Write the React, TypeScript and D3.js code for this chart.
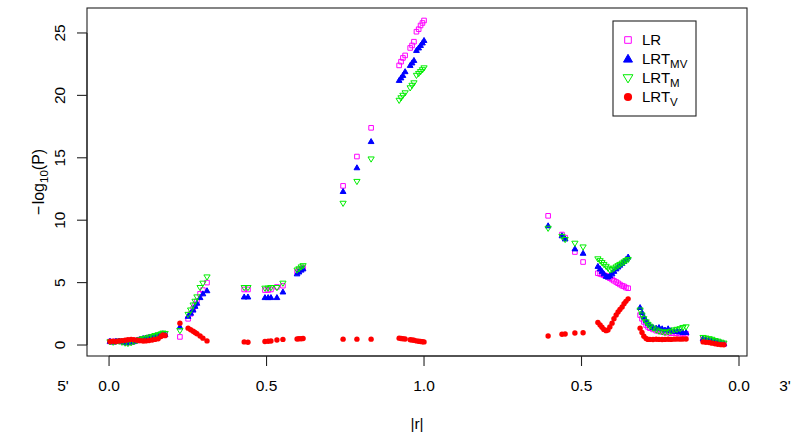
import React from "react";
import * as d3 from "d3";

// ---------- data ----------
// x axis: |r| on the 5' arm (left half) and on the 3' arm (right half)
const xTickPos = [0, 0.5, 1, 1.5, 2];
const xTickLabels = ["0.0", "0.5", "1.0", "0.5", "0.0"];
const armLabels = ["5'", "3'"];
const armLabelPos = [-0.146, 2.146];
const yTicks = [0, 5, 10, 15, 20, 25];

const seriesNames = ["LR", "LRT_MV", "LRT_M", "LRT_V"];
const seriesColors = ["#ff00ff", "#0000ff", "#00ee00", "#ff0000"];

// |r| of markers on the 5' arm
const rFive = [
  0.003, 0.013, 0.022, 0.032, 0.041, 0.051, 0.06, 0.07, 0.079, 0.089, 0.098, 0.108, 0.117, 0.127, 0.137, 0.146, 0.156, 0.165, 0.171, 0.178,
  0.225, 0.251, 0.259, 0.267, 0.273, 0.279, 0.289, 0.298, 0.311,
  0.429, 0.441,
  0.495, 0.505, 0.514, 0.533, 0.552,
  0.597, 0.603, 0.61, 0.616,
  0.743, 0.787, 0.832,
  0.921, 0.927, 0.933, 0.94, 0.956, 0.962, 0.968, 0.976, 0.983, 0.989, 0.995, 1.0,
];
// |r| of markers on the 3' arm
const rThree = [
  0.606,
  0.562, 0.552, 0.521, 0.495,
  0.448, 0.441, 0.435, 0.429, 0.422, 0.416, 0.41, 0.403, 0.397, 0.39, 0.384, 0.378, 0.371, 0.365, 0.359, 0.352,
  0.314, 0.308, 0.302, 0.295, 0.289, 0.283, 0.273, 0.263, 0.254, 0.244, 0.235, 0.225, 0.216, 0.206, 0.197, 0.187, 0.178, 0.168,
  0.114, 0.105, 0.095, 0.086, 0.076, 0.067, 0.057, 0.048,
];

const lrFive = [
  0.28, 0.24, 0.3, 0.3, 0.26, 0.2, 0.18, 0.22, 0.28, 0.36, 0.44, 0.5, 0.54, 0.6, 0.65, 0.7, 0.76, 0.8, 0.88, 0.84,
  0.65, 2.1, 2.5, 2.9, 3.2, 3.5, 4.1, 4.4, 5.0,
  4.45, 4.45,
  4.4, 4.4, 4.45, 4.65, 4.75,
  5.85, 6.0, 6.1, 6.2,
  12.75, 15.1, 17.4,
  22.4, 22.7, 23.0, 23.2, 23.8, 24.0, 24.3, 25.1, 25.3, 25.6, 25.8, 26.0,
];
const mvFive = [
  0.3, 0.25, 0.3, 0.32, 0.28, 0.22, 0.2, 0.25, 0.3, 0.38, 0.45, 0.52, 0.56, 0.62, 0.66, 0.72, 0.78, 0.82, 0.9, 0.85,
  1.45, 2.3, 2.55, 2.8, 3.1, 3.35, 3.8, 4.1, 4.35,
  3.85, 3.85,
  3.8, 3.8, 3.8, 3.8, 4.25,
  5.7, 5.85, 6.0, 6.1,
  12.3, 14.2, 16.3,
  21.2, 21.4, 21.6, 21.9, 22.4, 22.6, 22.8, 23.6, 23.8, 24.0, 24.2, 24.4,
];
const mFive = [
  0.25, 0.22, 0.28, 0.3, 0.22, 0.15, 0.12, 0.18, 0.25, 0.35, 0.42, 0.5, 0.55, 0.62, 0.68, 0.75, 0.82, 0.88, 0.95, 0.92,
  1.15, 2.45, 2.8, 3.2, 3.5, 3.85, 4.6, 4.95, 5.45,
  4.6, 4.6,
  4.55, 4.55, 4.6, 4.6, 4.95,
  6.0, 6.1, 6.25, 6.35,
  11.35, 13.1, 14.9,
  19.6, 19.8, 20.0, 20.2, 20.6, 20.8, 21.0, 21.6, 21.75, 21.9, 22.05, 22.2,
];
const vFive = [
  0.28, 0.3, 0.28, 0.32, 0.35, 0.38, 0.42, 0.45, 0.42, 0.38, 0.35, 0.32, 0.33, 0.36, 0.4, 0.45, 0.5, 0.68, 0.8, 0.75,
  1.75, 1.35, 1.22, 1.1, 1.0, 0.9, 0.72, 0.55, 0.33,
  0.25, 0.22,
  0.28, 0.3, 0.32, 0.4, 0.45,
  0.48, 0.5, 0.5, 0.52,
  0.47, 0.47, 0.47,
  0.55, 0.52, 0.5, 0.48, 0.42, 0.4, 0.38, 0.33, 0.3, 0.28, 0.26, 0.25,
];

const lrThree = [
  10.35,
  8.85, 8.6, 7.45, 6.65,
  5.75, 5.7, 5.65, 5.6, 5.55, 5.45, 5.35, 5.25, 5.15, 5.05, 4.95, 4.85, 4.75, 4.7, 4.6, 4.55,
  2.4, 2.1, 1.85, 1.6, 1.45, 1.35, 1.25, 1.15, 1.1, 1.05, 1.0, 1.0, 0.95, 0.95, 0.95, 0.9, 0.9, 0.9,
  0.45, 0.4, 0.38, 0.32, 0.28, 0.22, 0.15, 0.08,
];
const mvThree = [
  9.55,
  8.75, 8.5, 7.7, 7.35,
  6.3, 6.1, 5.9, 5.7, 5.5, 5.45, 5.55, 5.7, 5.9, 6.1, 6.25, 6.4, 6.55, 6.7, 6.85, 7.05,
  3.0, 2.6, 2.25, 1.95, 1.75, 1.6, 1.4, 1.35, 1.4, 1.3, 1.2, 1.3, 1.15, 1.1, 1.1, 1.05, 1.0, 1.0,
  0.5, 0.45, 0.4, 0.35, 0.3, 0.25, 0.18, 0.1,
];
const mThree = [
  9.35,
  8.7, 8.45, 8.15, 7.85,
  6.9, 6.75, 6.6, 6.45, 6.3, 6.15, 6.0, 6.05, 6.15, 6.25, 6.35, 6.45, 6.55, 6.65, 6.75, 6.85,
  2.8, 2.4, 2.1, 1.85, 1.65, 1.5, 1.35, 1.2, 1.1, 1.05, 1.0, 1.05, 1.1, 1.2, 1.25, 1.3, 1.4, 1.45,
  0.6, 0.55, 0.5, 0.45, 0.35, 0.3, 0.22, 0.15,
];
const vThree = [
  0.72,
  0.86, 0.88, 0.96, 0.98,
  1.8, 1.6, 1.42, 1.25, 1.15, 1.2, 1.45, 1.75, 2.1, 2.4, 2.65, 2.85, 3.05, 3.3, 3.5, 3.7,
  1.35, 1.0, 0.7, 0.52, 0.45, 0.45, 0.44, 0.46, 0.45, 0.44, 0.45, 0.46, 0.45, 0.47, 0.48, 0.47, 0.48, 0.48,
  0.25, 0.22, 0.2, 0.15, 0.1, 0.06, 0.03, 0.02,
];

// ---------- layout ----------
const W = 800;
const H = 442;
const plotLeft = 87;
const plotRight = 747;
const plotTop = 8;
const plotBottom = 356;
const FONT = "'Liberation Sans', Arial, Helvetica, sans-serif";

const x = d3.scaleLinear().domain([-0.07, 2.0254]).range([plotLeft, plotRight]);
const y = d3.scaleLinear().domain([-0.88, 27.0]).range([plotBottom, plotTop]);

// 5' arm: position = |r|; 3' arm: position = 2 - |r|
const posFive = rFive.map((r) => r);
const posThree = rThree.map((r) => 2 - r);

type Pt = { p: number; v: number };
const makeSeries = (five: number[], three: number[]): Pt[] => [
  ...five.map((v, i) => ({ p: posFive[i], v })),
  ...three.map((v, i) => ({ p: posThree[i], v })),
];

const seriesData: Pt[][] = [
  makeSeries(lrFive, lrThree),
  makeSeries(mvFive, mvThree),
  makeSeries(mFive, mThree),
  makeSeries(vFive, vThree),
];

// ---------- symbols ----------
function symbolPath(kind: number, cx: number, cy: number, s: number): string {
  if (kind === 0) {
    const h = s / 2;
    return `M${cx - h},${cy - h}h${s}v${s}h${-s}Z`;
  }
  if (kind === 1) {
    const w = s * 1.15;
    const hh = s;
    return `M${cx},${cy - hh * 0.6}L${cx + w / 2},${cy + hh * 0.4}L${cx - w / 2},${cy + hh * 0.4}Z`;
  }
  if (kind === 2) {
    const w = s * 1.2;
    const hh = s;
    return `M${cx},${cy + hh * 0.6}L${cx + w / 2},${cy - hh * 0.4}L${cx - w / 2},${cy - hh * 0.4}Z`;
  }
  return "";
}

function Marker({ kind, cx, cy, s }: { kind: number; cx: number; cy: number; s: number }) {
  const color = seriesColors[kind];
  if (kind === 3) return <circle cx={cx} cy={cy} r={s / 2} fill={color} />;
  const filled = kind === 1;
  return (
    <path
      d={symbolPath(kind, cx, cy, s)}
      fill={filled ? color : "none"}
      stroke={color}
      strokeWidth={1}
    />
  );
}

const plotSizes = [4.6, 5, 5.2, 5.4];
const legendSizes = [6.6, 7.8, 8.2, 8.2];

export default function App() {
  const legendX = 613;
  const legendY = 21;
  const legendW = 83;
  const legendH = 95;
  const legendRows = [40, 59, 78, 97];
  const legendLabels: [string, string][] = [
    ["LR", ""],
    ["LRT", "MV"],
    ["LRT", "M"],
    ["LRT", "V"],
  ];
  const yMid = (plotTop + plotBottom) / 2;

  return (
    <svg
      width={W}
      height={H}
      style={{ position: "absolute", left: 0, top: 0, background: "#fff" }}
      fontFamily={FONT}
    >
      <rect x={0} y={0} width={W} height={H} fill="#fff" />
      {/* points */}
      {seriesData.map((pts, k) => (
        <g key={seriesNames[k]}>
          {pts.map((d, i) => (
            <Marker key={i} kind={k} cx={x(d.p)} cy={y(d.v)} s={plotSizes[k]} />
          ))}
        </g>
      ))}

      {/* box */}
      <rect
        x={plotLeft}
        y={plotTop}
        width={plotRight - plotLeft}
        height={plotBottom - plotTop}
        fill="none"
        stroke="#222"
        strokeWidth={1.1}
      />

      {/* x axis */}
      <line x1={x(0)} x2={x(2)} y1={plotBottom} y2={plotBottom} stroke="#222" strokeWidth={1.1} />
      {xTickPos.map((t, i) => (
        <g key={i}>
          <line x1={x(t)} x2={x(t)} y1={plotBottom} y2={plotBottom + 10} stroke="#222" strokeWidth={1.1} />
          <text x={x(t)} y={390.5} textAnchor="middle" fontSize={15.5} fill="#000">
            {xTickLabels[i]}
          </text>
        </g>
      ))}
      {armLabels.map((l, i) => (
        <text key={l} x={x(armLabelPos[i])} y={390.5} textAnchor="middle" fontSize={15.5} fill="#000">
          {l}
        </text>
      ))}
      <text x={(plotLeft + plotRight) / 2} y={429} textAnchor="middle" fontSize={15.5} fill="#000">
        |r|
      </text>

      {/* y axis */}
      <line x1={plotLeft} x2={plotLeft} y1={y(0)} y2={y(25)} stroke="#222" strokeWidth={1.1} />
      {yTicks.map((t) => (
        <g key={t}>
          <line x1={plotLeft - 10} x2={plotLeft} y1={y(t)} y2={y(t)} stroke="#222" strokeWidth={1.1} />
          <text
            x={65.5}
            y={y(t)}
            textAnchor="middle"
            fontSize={15.5}
            fill="#000"
            transform={`rotate(-90, 65.5, ${y(t)})`}
          >
            {t}
          </text>
        </g>
      ))}
      <text
        x={44}
        y={yMid}
        textAnchor="middle"
        fontSize={16}
        fill="#000"
        transform={`rotate(-90, 44, ${yMid})`}
      >
        {"\u2212"}
        <tspan dx={1.5}>log</tspan>
        <tspan fontSize={11.5} dy={3.8}>10</tspan>
        <tspan dy={-3.8}>(P)</tspan>
      </text>

      {/* legend */}
      <rect x={legendX} y={legendY} width={legendW} height={legendH} fill="#fff" stroke="#222" strokeWidth={1.1} />
      {legendRows.map((ry, k) => (
        <g key={k}>
          <Marker kind={k} cx={628} cy={ry} s={legendSizes[k]} />
          <text x={642} y={ry + 5.3} fontSize={15} fill="#000">
            {legendLabels[k][0]}
            {legendLabels[k][1] && (
              <tspan fontSize={11.5} dy={3.5}>
                {legendLabels[k][1]}
              </tspan>
            )}
          </text>
        </g>
      ))}
    </svg>
  );
}
